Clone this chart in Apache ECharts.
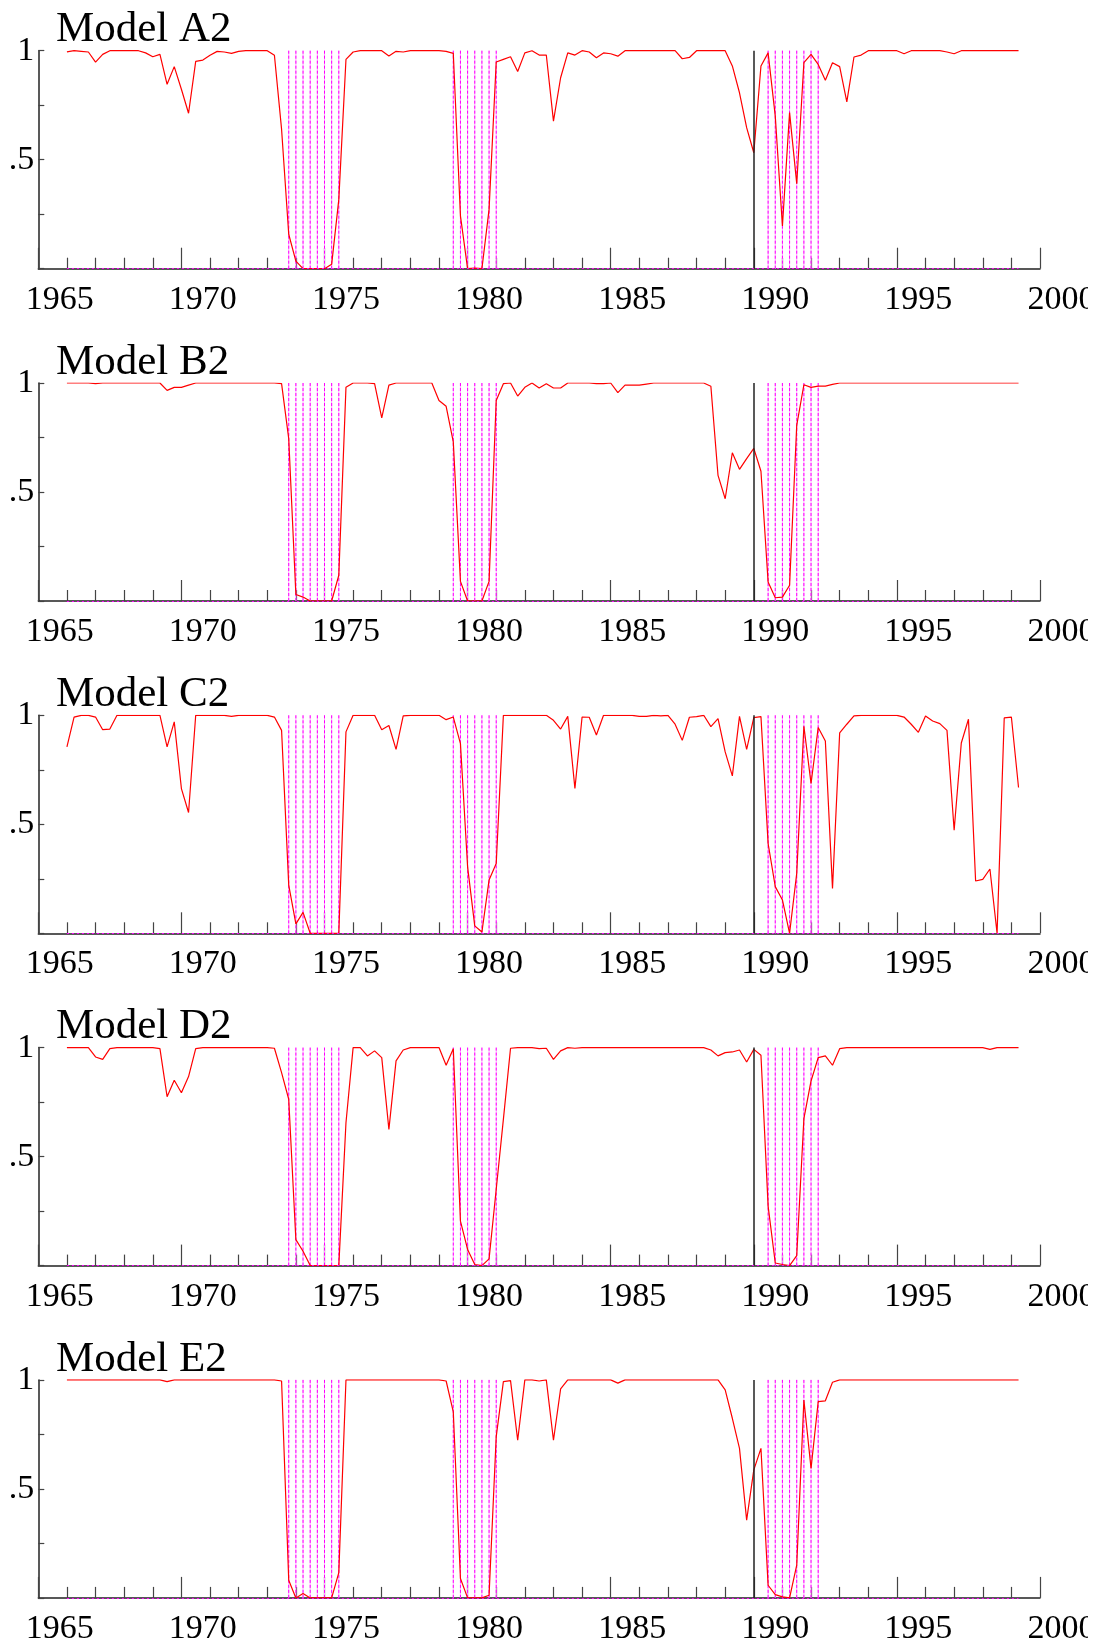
<!DOCTYPE html>
<html>
<head>
<meta charset="utf-8">
<script src="https://cdn.jsdelivr.net/npm/echarts@6/dist/echarts.min.js"></script>
<style>
  body { margin: 0; background: #fff; }
  #main { width: 1088px; height: 1648px; }
</style>
</head>
<body>
<div id="main"></div>
<script type="text/javascript">
// quarterly probabilities, first observation 1965 Q2 (plotted at 1965.25)
var firstQuarter = 1965.25;
var titles = ['Model A2', 'Model B2', 'Model C2', 'Model D2', 'Model E2'];
var yearLabels = [1965, 1970, 1975, 1980, 1985, 1990, 1995, 2000];

var modelA = [
  .995, 1, .997, .994, .948, .983, 1, 1,
  1, 1, 1, .99, .972, .983, .846, .927,
  .823, .713, .951, .957, .979, .997, .994, .988,
  .997, 1, 1, 1, 1, .979, .64, .158,
  .035, 0, 0, 0, 0, .02, .318, .96,
  .994, 1, 1, 1, 1, .976, .997, .994,
  1, 1, 1, 1, 1, .997, .988, .242,
  0, .003, 0, .272, .948, .96, .972, .905,
  .99, 1, .98, .98, .677, .876, .99, .98,
  1, .994, .968, .99, .986, .975, 1, 1,
  1, 1, 1, 1, 1, 1, .963, .969,
  1, 1, 1, 1, 1, .93, .807, .647,
  .532, .93, .99, .70, .196, .716, .39, .945,
  .983, .937, .864, .945, .927, .765, .971, .98,
  1, 1, 1, 1, 1, .986, 1, 1,
  1, 1, 1, .994, .986, 1, 1, 1,
  1, 1, 1, 1, 1, 1
];
var modelB = [
  1, 1, 1, 1, .997, 1, 1, 1,
  1, 1, 1, 1, 1, 1, .966, .98,
  .98, .99, 1, 1, 1, 1, 1, 1,
  1, 1, 1, 1, 1, 1, .997, .745,
  .03, .018, 0, 0, 0, 0, .118, .98,
  1, 1, 1, .997, .84, .99, 1, 1,
  1, 1, 1, 1, .92, .893, .73, .09,
  0, 0, 0, .09, .92, .997, 1, .94,
  .98, 1, .977, .997, .977, .977, 1, 1,
  1, 1, .997, .997, 1, .956, .99, .99,
  .99, .995, 1, 1, 1, 1, 1, 1,
  1, 1, .985, .576, .469, .68, .604, .653,
  .70, .595, .087, .015, .018, .072, .806, .992,
  .98, .986, .986, .994, 1, 1, 1, 1,
  1, 1, 1, 1, 1, 1, 1, 1,
  1, 1, 1, 1, 1, 1, 1, 1,
  1, 1, 1, 1, 1, 1
];
var modelC = [
  .855, .992, 1, 1, .992, .934, .937, 1,
  1, 1, 1, 1, 1, 1, .855, .97,
  .664, .554, 1, 1, 1, 1, 1, .995,
  1, 1, 1, 1, 1, .992, .931, .221,
  .043, .096, 0, 0, 0, 0, 0, .924,
  1, 1, 1, 1, .934, .953, .844, .997,
  1, 1, 1, 1, 1, .98, .992, .87,
  .305, .034, .006, .244, .32, 1, 1, 1,
  1, 1, 1, 1, .977, .937, .995, .664,
  .992, .991, .91, 1, 1, 1, 1, 1,
  .995, .995, 1, .997, 1, .959, .885, .991,
  .994, 1, .948, .985, .832, .722, .995, .844,
  .989, .994, .412, .214, .153, 0, .275, .95,
  .687, .944, .882, .206, .919, .959, .997, 1,
  1, 1, 1, 1, 1, .992, .959, .922,
  .997, .974, .962, .931, .473, .873, .982, .24,
  .247, .295, 0, .988, .992, .669
];
var modelD = [
  1, 1, 1, 1, .957, .946, .995, 1,
  1, 1, 1, 1, 1, .995, .775, .85,
  .793, .867, .995, 1, 1, 1, 1, 1,
  1, 1, 1, 1, 1, .997, .885, .763,
  .119, .066, 0, 0, 0, 0, 0, .655,
  1, 1, .962, .985, .954, .625, .939, .989,
  1, 1, 1, 1, 1, .919, .995, .204,
  .074, .005, 0, .031, .35, .671, .997, 1,
  1, 1, .995, .997, .946, .985, 1, .997,
  1, 1, 1, 1, 1, 1, 1, 1,
  1, 1, 1, 1, 1, 1, 1, 1,
  1, 1, .989, .962, .977, .98, .989, .934,
  .992, .965, .273, .012, .005, 0, .046, .674,
  .847, .954, .962, .919, .995, 1, 1, 1,
  1, 1, 1, 1, 1, 1, 1, 1,
  1, 1, 1, 1, 1, 1, 1, 1,
  1, .992, 1, 1, 1, 1
];
var modelE = [
  1, 1, 1, 1, 1, 1, 1, 1,
  1, 1, 1, 1, 1, 1, .992, 1,
  1, 1, 1, 1, 1, 1, 1, 1,
  1, 1, 1, 1, 1, 1, .995, .081,
  0, .02, 0, 0, 0, 0, .116, 1,
  1, 1, 1, 1, 1, 1, 1, 1,
  1, 1, 1, 1, 1, .995, .853, .089,
  0, 0, 0, .012, .74, .992, .997, .723,
  1, 1, .995, 1, .723, .959, 1, 1,
  1, 1, 1, 1, 1, .985, 1, 1,
  1, 1, 1, 1, 1, 1, 1, 1,
  1, 1, 1, 1, .954, .824, .686, .357,
  .587, .686, .058, .015, .005, 0, .15, .908,
  .594, .9, .904, .989, 1, 1, 1, 1,
  1, 1, 1, 1, 1, 1, 1, 1,
  1, 1, 1, 1, 1, 1, 1, 1,
  1, 1, 1, 1, 1, 1
];

// recession quarters (first and last quarter of each episode)
var recessions = [[1973.0, 1974.75], [1978.75, 1980.25], [1989.75, 1991.5]];
var breakYear = 1989.25;

var models = [modelA, modelB, modelC, modelD, modelE];

// layout
var xMin = 1964.25, xMax = 1999.25, labelMax = 2000;
var plotLeft = 38.3, plotWidth = 1001.7;
var panelTop = 50.7, panelStep = 332.3, panelHeight = 218;
var labelWidth = plotWidth * (labelMax - xMin) / (xMax - xMin);
var serif = '"Liberation Serif", "DejaVu Serif", serif';

var quarters = modelA.map(function (v, i) { return firstQuarter + i / 4; });
var lastQuarter = quarters[quarters.length - 1];

var recessionQuarters = [];
recessions.forEach(function (r) {
    for (var q = r[0]; q <= r[1] + 1e-9; q += 0.25) {
        recessionQuarters.push([q, 1]);
    }
});

var grids = [], xAxes = [], yAxes = [], series = [], titleList = [];

models.forEach(function (vals, k) {
    var top = panelTop + k * panelStep;
    titleList.push({
        text: titles[k],
        left: 56,
        top: top - 42,
        padding: 0,
        textStyle: { fontFamily: serif, fontSize: 43, fontWeight: 'normal', color: '#000' }
    });
    grids.push({
        left: plotLeft, top: top, width: plotWidth, height: panelHeight,
        containLabel: false, outerBoundsMode: 'none'
    });
    xAxes.push({
        gridIndex: k,
        type: 'value',
        min: xMin,
        max: xMax,
        interval: 5,
        axisLine: { lineStyle: { color: '#222', width: 1.5 } },
        axisTick: { inside: true, length: 21, lineStyle: { color: '#444', width: 1.2 } },
        minorTick: { show: true, splitNumber: 5, length: 11, lineStyle: { color: '#444', width: 1.2 } },
        axisLabel: { show: false },
        splitLine: { show: false },
        minorSplitLine: { show: false }
    });
    yAxes.push({
        gridIndex: k,
        type: 'value',
        min: 0,
        max: 1,
        interval: 0.25,
        axisLine: { show: true, lineStyle: { color: '#222', width: 1.5 } },
        axisTick: { inside: true, length: 6, lineStyle: { color: '#444', width: 1.2 } },
        axisLabel: {
            margin: 4,
            fontFamily: serif,
            fontSize: 34,
            color: '#000',
            formatter: function (v) { return v === 1 ? '1' : (v === 0.5 ? '.5' : ''); }
        },
        splitLine: { show: false }
    });

    // recession index lines
    series.push({
        type: 'custom',
        xAxisIndex: k,
        yAxisIndex: k,
        silent: true,
        z: 1,
        data: recessionQuarters,
        renderItem: function (params, api) {
            var hi = api.coord([api.value(0), api.value(1)]);
            var lo = api.coord([api.value(0), 0]);
            var shape = { x1: lo[0], y1: lo[1], x2: hi[0], y2: hi[1] };
            return {
                type: 'group',
                children: [
                    { type: 'line', shape: shape, style: { stroke: '#ffa6ff', lineWidth: 1 } },
                    { type: 'line', shape: shape, style: { stroke: '#ff00ff', lineWidth: 1, lineDash: [3, 2] } }
                ]
            };
        }
    });

    series.push({
        type: 'line',
        xAxisIndex: k,
        yAxisIndex: k,
        data: quarters.map(function (q, i) { return [q, vals[i]]; }),
        symbol: 'none',
        lineStyle: { color: '#ff0000', width: 1.2 },
        z: 3,
        markLine: {
            silent: true,
            symbol: 'none',
            label: { show: false },
            animation: false,
            data: [
                { xAxis: breakYear, lineStyle: { color: '#222', width: 1.5, type: 'solid' } },
                [
                    { coord: [firstQuarter, 0], lineStyle: { color: '#ff00ff', width: 1, type: [2, 3] } },
                    { coord: [lastQuarter, 0] }
                ]
            ]
        }
    });
});

// separate grids that only carry the year labels (they run on to 2000)
models.forEach(function (vals, k) {
    var top = panelTop + k * panelStep;
    grids.push({
        left: plotLeft, top: top, width: labelWidth, height: panelHeight,
        containLabel: false, outerBoundsMode: 'none'
    });
    xAxes.push({
        gridIndex: 5 + k,
        type: 'value',
        min: xMin,
        max: labelMax,
        interval: 0.25,
        axisLine: { show: false },
        axisTick: { show: false },
        splitLine: { show: false },
        axisLabel: {
            margin: 14,
            fontFamily: serif,
            fontSize: 34,
            color: '#000',
            formatter: function (v) { return yearLabels.indexOf(v) >= 0 ? String(v) : ''; }
        }
    });
    yAxes.push({ gridIndex: 5 + k, type: 'value', min: 0, max: 1, show: false });
});

var chart = echarts.init(document.getElementById('main'));
chart.setOption({
    animation: false,
    backgroundColor: '#fff',
    title: titleList,
    grid: grids,
    xAxis: xAxes,
    yAxis: yAxes,
    series: series
});
</script>
</body>
</html>
